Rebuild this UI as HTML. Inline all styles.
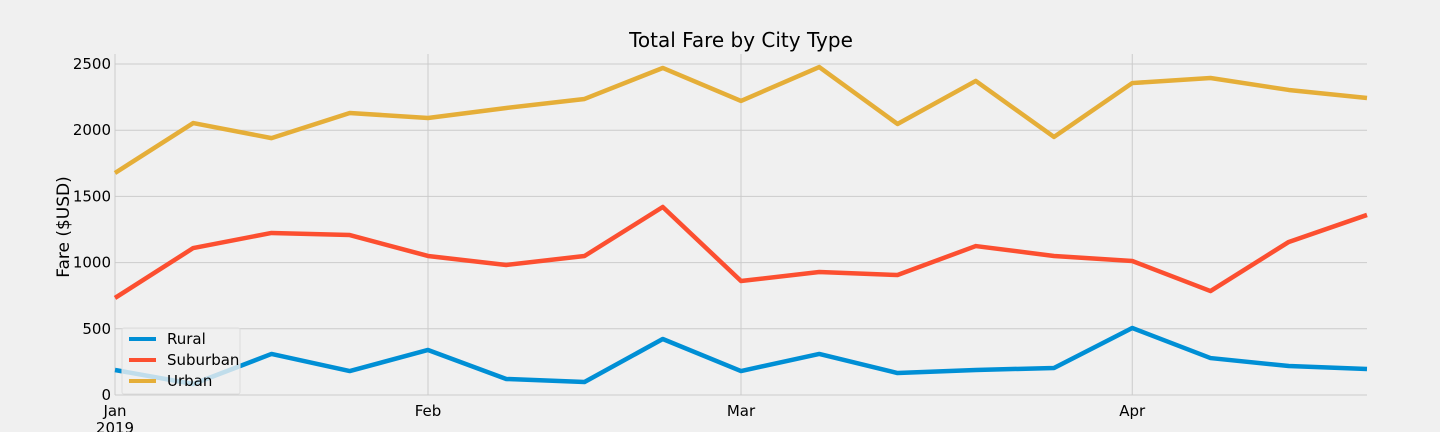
<!DOCTYPE html>
<html><head><meta charset="utf-8"><style>
html,body{margin:0;padding:0;background:#f0f0f0;width:1440px;height:432px;overflow:hidden}
svg{display:block;font-family:"DejaVu Sans","Liberation Sans",sans-serif}
</style></head><body>
<svg id="chart" width="1440" height="432" viewBox="0 0 1440 432"></svg>
<script>
const weeks = [0,1,2,3,4,5,6,7,8,9,10,11,12,13,14,15,16];
const urban = [1677,2054,1940,2130,2092,2168,2236,2470,2221,2477,2047,2372,1949,2356,2394,2304,2243];
const suburban = [733,1110,1224,1208,1050,982,1050,1420,861,929,906,1125,1050,1012,785,1156,1360];
const rural = [189,83,310,181,340,121,98,423,181,310,166,189,204,506,279,219,196];
const yTicks = [0,500,1000,1500,2000,2500];
const monthTickIdx = [0,4,8,13];
const monthLabels = ["Jan","Feb","Mar","Apr"];

const NS="http://www.w3.org/2000/svg";
const svg=document.getElementById('chart');
const x0=115,x1=1367,yTop=54,yBot=395;
const xs=i=>x0+(x1-x0)*i/(weeks.length-1);
const ys=v=>395-v*(331/2500);
function mk(tag,attrs,parent){const e=document.createElementNS(NS,tag);for(const k in attrs)e.setAttribute(k,attrs[k]);(parent||svg).appendChild(e);return e;}

const grid=mk('g',{});


yTicks.forEach(t=>{
  const l=mk('line',{x1:x0,x2:x1,y1:ys(t),y2:ys(t),stroke:'#cbcbcb','stroke-width':1},grid);
  
  
  const tx=mk('text',{x:x0-4,y:ys(t)+5,'text-anchor':'end','font-size':15,fill:'#000'});
  tx.textContent=t;
  
  
});
monthTickIdx.forEach((idx,k)=>{
  const l=mk('line',{x1:xs(idx),x2:xs(idx),y1:yTop,y2:yBot,stroke:'#cbcbcb','stroke-width':1},grid);
  
  
  const tx=mk('text',{x:xs(idx),y:416,'text-anchor':'middle','font-size':15,fill:'#000'});
  tx.textContent=monthLabels[k];
  
  
});
const yr=mk('text',{x:xs(0),y:433,'text-anchor':'middle','font-size':15,fill:'#000'});
yr.textContent='2019';



const series=[[rural,'#008fd5','rural-line'],[suburban,'#fc4f30','suburban-line'],[urban,'#e5ae38','urban-line']];
series.forEach(([d,c,n])=>{
  const p=mk('polyline',{points:d.map((v,i)=>xs(i)+','+ys(v)).join(' '),fill:'none',stroke:c,'stroke-width':4.5,'stroke-linejoin':'round'});
  
  
});

const t=mk('text',{x:741,y:47,'text-anchor':'middle','font-size':20,fill:'#000'});
t.textContent='Total Fare by City Type';


const yl=mk('text',{x:69,y:227,'text-anchor':'middle','font-size':17,fill:'#000',transform:'rotate(-90 69 227)'});
yl.textContent='Fare ($USD)';



const lg=mk('g',{});


mk('rect',{x:122,y:328,width:118,height:66,rx:2,fill:'#f0f0f0','fill-opacity':0.8,stroke:'#dcdcdc','stroke-width':1},lg);
[['Rural','#008fd5'],['Suburban','#fc4f30'],['Urban','#e5ae38']].forEach(([name,c],i)=>{
  const yy=339+i*21;
  const ln=mk('line',{x1:129,x2:156,y1:yy,y2:yy,stroke:c,'stroke-width':4},lg);
  
  
  const tx=mk('text',{x:167,y:yy+5,'font-size':15,fill:'#000'},lg);
  tx.textContent=name;
  
  
});
</script>
</body></html>
